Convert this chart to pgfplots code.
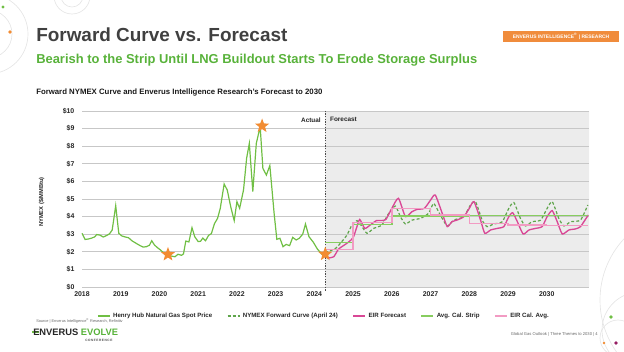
\documentclass[border=0pt]{standalone}
\usepackage{fontspec}
\setmainfont{Liberation Sans}
\usepackage{pgfplots}
\pgfplotsset{compat=1.18}
\definecolor{hh}{RGB}{112,191,68}
\definecolor{nym}{RGB}{95,165,75}
\definecolor{eir}{RGB}{217,72,150}
\definecolor{strip}{RGB}{135,205,95}
\definecolor{eiravg}{RGB}{242,155,195}
\definecolor{subgreen}{RGB}{88,178,58}
\definecolor{badge}{RGB}{240,140,60}
\definecolor{stargold}{RGB}{242,140,50}
\definecolor{fcgray}{RGB}{236,236,236}
\definecolor{titlegray}{RGB}{64,64,64}
\definecolor{purpledot}{RGB}{150,30,100}
\pgfdeclareplotmark{fstar}{%
  \pgfpathmoveto{\pgfpointpolar{90}{\pgfplotmarksize}}%
  \pgfpathlineto{\pgfpointpolar{126}{0.42\pgfplotmarksize}}%
  \pgfpathlineto{\pgfpointpolar{162}{\pgfplotmarksize}}%
  \pgfpathlineto{\pgfpointpolar{198}{0.42\pgfplotmarksize}}%
  \pgfpathlineto{\pgfpointpolar{234}{\pgfplotmarksize}}%
  \pgfpathlineto{\pgfpointpolar{270}{0.42\pgfplotmarksize}}%
  \pgfpathlineto{\pgfpointpolar{306}{\pgfplotmarksize}}%
  \pgfpathlineto{\pgfpointpolar{342}{0.42\pgfplotmarksize}}%
  \pgfpathlineto{\pgfpointpolar{18}{\pgfplotmarksize}}%
  \pgfpathlineto{\pgfpointpolar{54}{0.42\pgfplotmarksize}}%
  \pgfpathclose\pgfusepathqfill}
\begin{document}
\begin{tikzpicture}
\path (0,0) rectangle (468pt,263.25pt);
\begin{scope}
\clip (0,0) rectangle (468pt,263.25pt);
\begin{scope}[x=0.75pt,y=-0.75pt,yshift=263.25pt]
  % decorations
  \draw[black!10,line width=0.5pt] (-12,34) circle (40);
  \draw[black!10,line width=0.5pt] (-12,34) circle (24);
  \draw[black!10,line width=0.5pt] (72,-4) circle (18);
  \draw[black!10,line width=0.5pt] (72,-4) circle (11);
  \fill[hh] (3,7) circle (1.6);
  \fill[stargold] (10,32) circle (1.8);
  \draw[black!10,line width=0.5pt] (640,330) circle (38);
  \draw[black!10,line width=0.5pt] (618,338) circle (18);
  \draw[black!10,line width=0.5pt] (690,300) circle (90);
  \fill[hh] (611,317) circle (1.8);
  \fill[stargold] (604,343) circle (1.3);
  \fill[purpledot] (616,343) circle (1.8);
  % titles
  \node[anchor=base west,inner sep=0,text=titlegray,font=\fontsize{14.2}{16}\selectfont\bfseries] at (36,42) {Forward Curve vs. Forecast};
  \node[anchor=base west,inner sep=0,text=subgreen,font=\fontsize{9.7}{11}\selectfont\bfseries] at (36,63.5) {Bearish to the Strip Until LNG Buildout Starts To Erode Storage Surplus};
  \fill[badge] (503,31) rectangle (619,42);
  \node[inner sep=0,text=white,font=\fontsize{3.7}{4}\selectfont\bfseries] at (561,36.5) {ENVERUS INTELLIGENCE\textsuperscript{®} | RESEARCH};
  \node[anchor=west,inner sep=0,text=black!90,font=\fontsize{5.85}{7}\selectfont\bfseries] at (36,93) {Forward NYMEX Curve and Enverus Intelligence Research's Forecast to 2030};
  \node[rotate=90,inner sep=0,text=black!85,font=\fontsize{4.3}{5}\selectfont\bfseries] at (41.7,202) {NYMEX (\$/MMBtu)};
  % footer
  \node[anchor=west,inner sep=0,text=black!60,font=\fontsize{2.9}{3.5}\selectfont] at (36,321) {Source | Enverus Intelligence\textsuperscript{®} Research, Refinitiv};
  \draw[hh,line width=1pt] (32,332) -- (39,332);
  \node[anchor=west,inner sep=0,font=\fontsize{7}{8}\selectfont\bfseries] at (33,332) {\textcolor{black!85}{ENVERUS} \textcolor{subgreen}{EVOLVE}};
  \node[anchor=west,inner sep=0,text=black!70,font=\fontsize{2.4}{3}\selectfont\bfseries] at (85,340.5) {C\,O\,N\,F\,E\,R\,E\,N\,C\,E};
  \node[anchor=east,inner sep=0,text=black!60,font=\fontsize{3.1}{4}\selectfont] at (598,334) {Global Gas Outlook | Three Themes to 2030 | 4};
\end{scope}
\end{scope}
\begin{axis}[
  set layers,
  at={(61.5pt,48pt)}, anchor=south west,
  scale only axis, width=380.25pt, height=132pt,
  xmin=2018, xmax=2031.09, ymin=0, ymax=10,
  xtick={2018,...,2030},
  xticklabels={2018,2019,2020,2021,2022,2023,2024,2025,2026,2027,2028,2029,2030},
  ytick={0,...,10},
  yticklabels={\$0,\$1,\$2,\$3,\$4,\$5,\$6,\$7,\$8,\$9,\$10},
  ticklabel style={font=\fontsize{5.2}{6}\selectfont\bfseries, text=black!85},
  yticklabel style={xshift=-2.2pt},
  major tick length=0pt,
  axis line style={draw=none},
  ymajorgrids, major grid style={draw=black!22, line width=0.7pt},
  clip=false,
  legend style={at={(0.478,-0.165)}, anchor=center, legend columns=5, draw=none, fill=none,
    font=\fontsize{4.6}{5.5}\selectfont\bfseries, text=black!85,
    /tikz/every even column/.append style={column sep=9pt}},
  legend image code/.code={\draw[#1] (0pt,0pt) -- (9pt,0pt);},
]
\addplot[fill=fcgray, draw=none, forget plot, on layer=axis background] coordinates {
(2024.28,0) (2024.28,10) (2031.09,10) (2031.09,0)} \closedcycle;
\draw[black!70, dash pattern=on 1pt off 1pt, line width=0.6pt] (axis cs:2024.28,-0.2) -- (axis cs:2024.28,10);
\node[anchor=east,inner sep=0,font=\fontsize{4.8}{5}\selectfont\bfseries,text=black!85] at (axis cs:2024.17,9.5) {Actual};
\node[anchor=west,inner sep=0,font=\fontsize{4.8}{5}\selectfont\bfseries,text=black!85] at (axis cs:2024.40,9.5) {Forecast};

\addplot[hh, line width=0.9pt] coordinates {
(2018.00,3.05) (2018.08,2.70) (2018.17,2.73) (2018.25,2.78) (2018.33,2.85) (2018.38,2.98)
(2018.46,2.95) (2018.55,2.84) (2018.63,2.92) (2018.71,3.02) (2018.78,3.24) (2018.87,4.62)
(2018.95,3.05) (2019.03,2.90) (2019.12,2.84) (2019.20,2.80) (2019.30,2.61) (2019.40,2.48)
(2019.50,2.35) (2019.58,2.27) (2019.66,2.29) (2019.74,2.37) (2019.80,2.63) (2019.87,2.39)
(2019.95,2.23) (2020.03,2.10) (2020.12,1.91) (2020.20,1.82) (2020.30,1.76) (2020.40,1.72)
(2020.48,1.86) (2020.57,1.80) (2020.62,1.88) (2020.68,2.61) (2020.76,2.56) (2020.84,3.37)
(2020.91,2.86) (2021.00,2.58) (2021.06,2.60) (2021.12,2.78) (2021.19,2.63) (2021.27,2.94)
(2021.34,3.03) (2021.42,3.60) (2021.50,3.90) (2021.57,4.47) (2021.67,5.85) (2021.75,5.51)
(2021.84,4.56) (2021.93,3.77) (2022.00,4.85) (2022.07,4.47) (2022.17,5.51) (2022.25,7.31)
(2022.32,8.16) (2022.41,5.42) (2022.50,8.16) (2022.60,9.11) (2022.67,6.74) (2022.76,6.36)
(2022.85,6.90) (2022.96,4.19) (2023.03,2.71) (2023.11,2.77) (2023.19,2.29) (2023.27,2.42)
(2023.36,2.35) (2023.44,2.82) (2023.53,2.67) (2023.61,2.77) (2023.70,3.01) (2023.77,3.58)
(2023.86,2.86) (2023.97,2.55) (2024.08,2.15) (2024.20,1.85) (2024.28,1.80)
};
\addlegendentry{Henry Hub Natural Gas Spot Price}

\addplot[nym, line width=0.9pt, dash pattern=on 2.2pt off 1.6pt, smooth, tension=0.35] coordinates {
(2024.28,1.95) (2024.40,2.05) (2024.55,2.20) (2024.67,2.48) (2024.84,2.95) (2024.97,3.52)
(2025.10,3.77) (2025.23,3.43) (2025.36,3.05) (2025.53,3.33) (2025.74,3.52) (2025.92,4.19)
(2026.09,4.60) (2026.22,4.00) (2026.35,3.58) (2026.52,3.80) (2026.74,3.90) (2026.95,4.19)
(2027.08,4.75) (2027.25,4.09) (2027.43,3.47) (2027.60,3.80) (2027.86,4.00) (2028.03,4.66)
(2028.16,4.85) (2028.33,3.80) (2028.46,3.43) (2028.63,3.58) (2028.85,3.71) (2029.02,4.47)
(2029.15,4.80) (2029.32,3.90) (2029.45,3.47) (2029.62,3.71) (2029.84,3.80) (2030.01,4.47)
(2030.14,4.85) (2030.31,3.90) (2030.44,3.47) (2030.62,3.71) (2030.87,3.80) (2031.06,4.66)
};
\addlegendentry{NYMEX Forward Curve (April 24)}

\addplot[eir, line width=1pt, smooth, tension=0.35] coordinates {
(2024.28,1.75) (2024.35,1.65) (2024.50,1.72) (2024.62,2.15) (2024.75,2.35) (2024.88,2.55)
(2025.00,2.80) (2025.08,3.30) (2025.17,3.84) (2025.30,3.33) (2025.44,3.52) (2025.60,3.77)
(2025.75,3.78) (2025.85,3.85) (2026.00,4.47) (2026.17,5.04) (2026.35,4.00) (2026.52,4.28)
(2026.65,4.41) (2026.84,4.47) (2027.00,4.94) (2027.12,5.23) (2027.30,4.19) (2027.43,3.43)
(2027.55,3.71) (2027.68,3.80) (2027.86,4.00) (2028.00,4.47) (2028.12,4.85) (2028.29,3.80)
(2028.40,3.05) (2028.55,3.24) (2028.72,3.33) (2028.89,3.43) (2029.02,4.00) (2029.12,4.22)
(2029.24,3.71) (2029.39,3.01) (2029.54,3.24) (2029.71,3.33) (2029.88,3.43) (2030.01,4.00)
(2030.14,4.34) (2030.27,3.71) (2030.40,3.01) (2030.57,3.24) (2030.74,3.30) (2030.87,3.43)
(2031.07,4.09)
};
\addlegendentry{EIR Forecast}

\addplot[strip, line width=1pt, const plot] coordinates {
(2024.28,2.52) (2025.00,3.56) (2026.00,4.03) (2027.00,4.03) (2028.00,4.05) (2029.00,4.05)
(2030.00,4.05) (2031.07,4.05)
};
\addlegendentry{Avg. Cal. Strip}

\addplot[eiravg, line width=1pt, const plot] coordinates {
(2024.28,2.12) (2025.00,3.67) (2026.00,4.45) (2027.00,4.09) (2028.00,3.60) (2029.00,3.52)
(2030.00,3.50) (2031.07,3.50)
};
\addlegendentry{EIR Cal. Avg.}

\addplot[only marks, mark=fstar, mark size=5.6pt, color=stargold, forget plot] coordinates {
(2020.22,1.85) (2022.65,9.15) (2024.28,1.87)
};
\end{axis}
\pgfresetboundingbox
\path[use as bounding box] (0,0) rectangle (468pt,263.25pt);
\end{tikzpicture}
\end{document}
